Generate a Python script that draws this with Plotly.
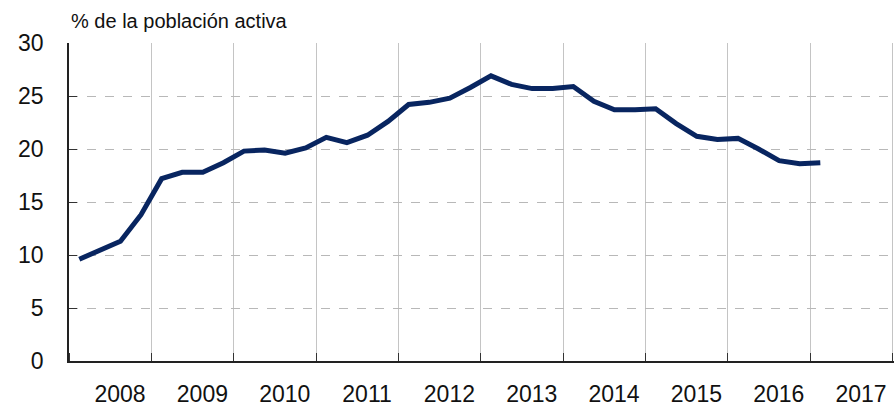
import plotly.graph_objects as go

years = [2008]*4 + [2009]*4 + [2010]*4 + [2011]*4 + [2012]*4 + [2013]*4 + [2014]*4 + [2015]*4 + [2016]*4 + [2017]
quarters = [1, 2, 3, 4]*9 + [1]
unemployment = [9.6, 10.4, 11.3, 13.8,
                17.2, 17.8, 17.8, 18.7,
                19.8, 19.9, 19.6, 20.1,
                21.1, 20.6, 21.3, 22.6,
                24.2, 24.4, 24.8, 25.8,
                26.9, 26.1, 25.7, 25.7,
                25.9, 24.5, 23.7, 23.7,
                23.8, 22.4, 21.2, 20.9,
                21.0, 20.0, 18.9, 18.6,
                18.7]
year_labels = ["2008", "2009", "2010", "2011", "2012", "2013", "2014", "2015", "2016", "2017"]
y_ticks = [0, 5, 10, 15, 20, 25, 30]

x = [y + (q - 1) / 4 + 0.125 for y, q in zip(years, quarters)]
label_pos = [int(l) + 0.62 for l in year_labels]
boundaries = [int(l) for l in year_labels] + [int(year_labels[-1]) + 1]

FONT = "Liberation Sans, Arial, Helvetica, sans-serif"

fig = go.Figure(go.Scatter(x=x, y=unemployment, mode="lines",
                           line=dict(color="#082560", width=5),
                           hoverinfo="skip"))

fig.update_layout(
    width=894, height=406,
    margin=dict(l=69, r=0, t=43, b=45, autoexpand=False),
    paper_bgcolor="white", plot_bgcolor="white",
    showlegend=False,
    font=dict(family=FONT, color="#111111"),
    xaxis=dict(
        range=[2008, 2018.02], automargin=False,
        tickmode="array", tickvals=label_pos, ticktext=year_labels,
        ticks="", showgrid=False, zeroline=False,
        tickfont=dict(size=23, family=FONT, color="#111111"),
        ticklabelstandoff=12,
        showline=True, linecolor="#222222", linewidth=1.5,
        minor=dict(tickmode="array", tickvals=boundaries, ticks="inside",
                   ticklen=8, tickcolor="#333333", tickwidth=1,
                   showgrid=True, gridcolor="#c4c4c4", gridwidth=1),
    ),
    yaxis=dict(
        range=[0, 30], automargin=False,
        tickmode="array", tickvals=y_ticks,
        ticks="inside", ticklen=8, tickcolor="#333333", tickwidth=1,
        showgrid=True, gridcolor="#b8b8b8", griddash="dash", gridwidth=1,
        zeroline=False,
        showline=True, linecolor="#222222", linewidth=1.5,
        tickfont=dict(size=23, family=FONT, color="#111111"),
        ticklabelstandoff=19,
    ),
    annotations=[dict(text="% de la población activa", xref="paper", yref="paper",
                      x=0, y=1, xanchor="left", yanchor="bottom", yshift=9,
                      showarrow=False,
                      font=dict(size=20, family=FONT, color="#111111"))],
)

fig.write_html("out.html", config={"displayModeBar": False},
               post_script="document.body.style.margin='0';document.body.style.overflow='hidden';")
